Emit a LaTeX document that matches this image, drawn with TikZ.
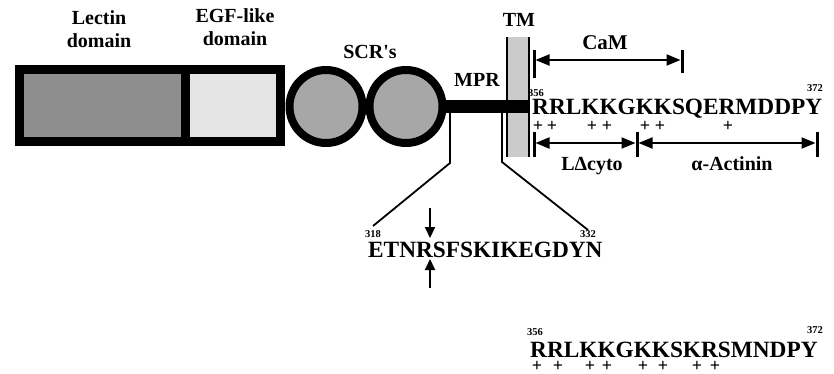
\documentclass[tikz,border=0pt]{standalone}
\usepackage{fontspec}
\setmainfont{Liberation Serif}
\usetikzlibrary{arrows.meta}
\definecolor{lectingray}{HTML}{8E8E8E}
\definecolor{egfgray}{HTML}{E4E4E4}
\definecolor{scrgray}{HTML}{A7A7A7}
\definecolor{tmgray}{HTML}{CBCBCB}
\begin{document}
\begin{tikzpicture}[x=1pt,y=-1pt,
  lbl/.style={font=\fontsize{20}{23}\selectfont\bfseries, inner sep=0pt, align=center},
  seq/.style={font=\fontsize{23.3}{28}\selectfont\bfseries, inner sep=0pt, anchor=base west},
  num/.style={font=\fontsize{10.5}{12}\selectfont\bfseries, inner sep=0pt, anchor=base west},
  pl/.style={font=\fontsize{18}{20}\selectfont\bfseries, inner sep=0pt},
  domainbox/.style={draw, line width=9pt, inner sep=0pt, minimum height=72pt},
  scrcircle/.style={circle, draw, line width=8pt, fill=scrgray, minimum size=73pt, inner sep=0pt},
  dimline/.style={line width=2pt, {Triangle[length=14pt,width=11pt]}-{Triangle[length=14pt,width=11pt]}},
  endtick/.style={line width=3pt},
  conn/.style={line width=1.8pt},
  sitearrow/.style={line width=2pt, -{Triangle[length=11pt,width=10pt]}}]
\useasboundingbox (0,0) rectangle (834,374);

% domain boxes
\node[domainbox, fill=lectingray, minimum width=165.5pt] (lectinbox) at (102.25,105.5) {};
\node[domainbox, fill=egfgray, minimum width=95.5pt] (egfbox) at (232.75,105.5) {};
\node[scrcircle] (scr1) at (326,106.5) {};
\node[scrcircle] (scr2) at (406,106.5) {};

% labels
\node[lbl, anchor=north] (lectinlbl) at (99,10) {Lectin\\domain};
\node[lbl, anchor=north] (egflbl) at (235,8) {EGF-like\\domain};
\node[lbl, anchor=base] (scrlbl) at (370,59) {SCR\textquotesingle s};
\node[lbl, anchor=base] (mprlbl) at (477,87) {MPR};
\node[lbl, anchor=base] (tmlbl) at (519,27) {TM};
\node[lbl, anchor=base, font=\fontsize{21}{23}\selectfont\bfseries] (camlbl) at (605,50) {CaM};
\node[lbl, anchor=base] (cytolbl) at (592,171) {LΔcyto};
\node[lbl, anchor=base] (actlbl) at (732,171) {α-Actinin};

% TM segment
\fill[tmgray] (507,37) rectangle (529,157);
\draw[line width=2.5pt] (507,37) -- (507,157);
\draw[line width=2.5pt] (529,37) -- (529,157);

% MPR bar
\fill (441,100) rectangle (530,113);

% connectors to the MPR sequence
\coordinate (cl0) at (450,113);
\coordinate (cl1) at (450,163);
\coordinate (cl2) at (373,226);
\coordinate (cr0) at (502,113);
\coordinate (cr1) at (502,162);
\coordinate (cr2) at (588,230);
\draw[conn] (cl0) -- (cl1) -- (cl2);
\draw[conn] (cr0) -- (cr1) -- (cr2);

% cytoplasmic sequence
\node[seq] (seqa) at (532,115) {RRLKKGKKSQERMDDPY};
\node[num] (na1) at (528,97) {356};
\node[num] (na2) at (807,92) {372};
\foreach \px [count=\i] in {538,552,592,607,645,660,728}
  \node[pl] (pa\i) at (\px,126) {+};

% binding regions
\coordinate (camL) at (534,60);
\coordinate (camR) at (682,60);
\draw[endtick] (534,50) -- (534,78);
\draw[endtick] (682,50) -- (682,73);
\draw[dimline] ([xshift=1.5pt]camL) -- ([xshift=-1.5pt]camR);

\coordinate (cytoL) at (534,143);
\coordinate (cytoR) at (637,143);
\coordinate (actR) at (817,143);
\draw[endtick] (534,132) -- (534,157);
\draw[endtick] (637,132) -- (637,157);
\draw[endtick] (817,132) -- (817,157);
\draw[dimline] ([xshift=1.5pt]cytoL) -- ([xshift=-1.5pt]cytoR);
\draw[dimline] ([xshift=1.5pt]cytoR) -- ([xshift=-1.5pt]actR);

% MPR sequence
\node[seq] (seqb) at (368,257) {ETNRSFSKIKEGDYN};
\node[num] (nb1) at (365,237) {318};
\node[num] (nb2) at (580,237) {332};
\coordinate (sa0) at (430,208);
\coordinate (sa1) at (430,238);
\coordinate (sb0) at (430,288);
\coordinate (sb1) at (430,259);
\draw[sitearrow] (sa0) -- (sa1);
\draw[sitearrow] (sb0) -- (sb1);

% second sequence
\node[seq] (seqc) at (530,357) {RRLKKGKKSKRSMNDPY};
\node[num] (nc1) at (527,335) {356};
\node[num] (nc2) at (807,333) {372};
\foreach \px [count=\i] in {537,558,590,607,643,663,697,715}
  \node[pl] (pc\i) at (\px,366) {+};
\end{tikzpicture}
\end{document}
